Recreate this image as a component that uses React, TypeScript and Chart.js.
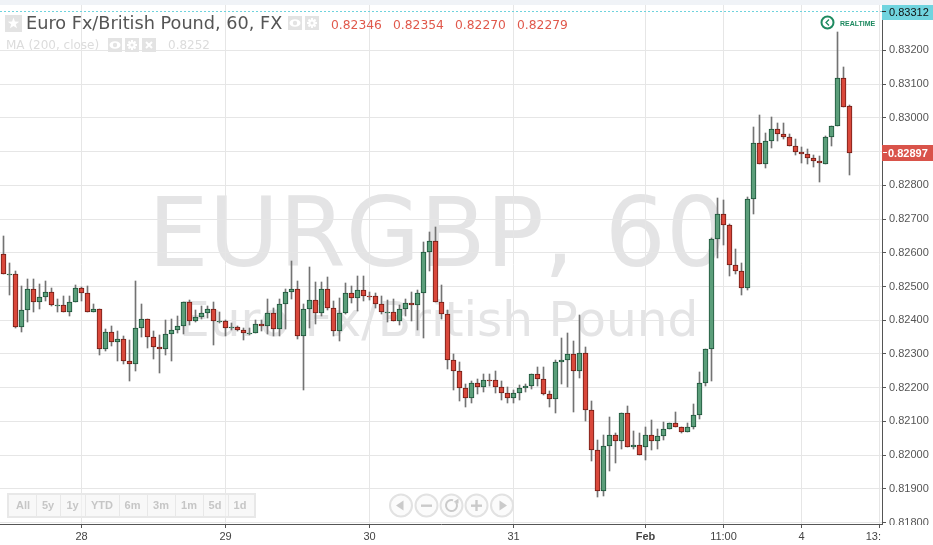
import React, { useEffect, useRef } from "react";
import { Chart, registerables } from "chart.js";

Chart.register(...registerables);

// Prices in 1e-5 units (0.82651 -> 82651)
const highs = [
  82651,82570,82545,82500,82523,82523,82508,82517,82496,82464,
  82473,82473,82503,82498,82500,82449,82434,82373,82382,82369,
  82354,82340,82515,82447,82404,82367,82355,82402,82405,82414,
  82455,82459,82429,82441,82441,82453,82423,82400,82393,82384,
  82378,82378,82402,82402,82462,82435,82464,82493,82577,82515,
  82447,82557,82512,82512,82527,82456,82465,82509,82502,82530,
  82530,82485,82481,82473,82459,82464,82444,82464,82485,82491,
  82633,82663,82675,82503,82429,82299,82275,82210,82219,82227,
  82240,82240,82251,82219,82201,82192,82207,82212,82242,82261,
  82260,82189,82281,82347,82361,82338,82415,82320,82162,82044,
  82059,82112,82067,82126,82145,82073,82067,82085,82105,82079,
  82099,82096,82129,82084,82094,82153,82248,82315,82645,82762,
  82757,82685,82611,82571,82766,82972,83008,82954,83002,82984,
  82984,82951,82937,82913,82907,82889,82887,82947,82977,83254,
  83150,83038,
];
const lows = [
  82538,82474,82376,82365,82394,82424,82432,82456,82443,82424,
  82424,82412,82454,82456,82424,82424,82297,82308,82323,82279,
  82270,82220,82249,82350,82317,82285,82243,82297,82279,82362,
  82360,82385,82394,82403,82408,82326,82392,82352,82370,82368,
  82340,82355,82362,82367,82358,82352,82352,82374,82462,82344,
  82193,82377,82389,82414,82430,82352,82338,82418,82451,82427,
  82457,82460,82436,82418,82394,82398,82385,82414,82398,82370,
  82347,82546,82455,82403,82255,82192,82162,82143,82156,82180,
  82186,82204,82184,82165,82154,82154,82165,82186,82196,82204,
  82177,82143,82125,82210,82201,82127,82229,82101,81984,81875,
  81880,81954,81976,82018,82025,82018,82001,81986,82014,82017,
  82045,82078,82084,82065,82069,82077,82106,82204,82221,82583,
  82622,82532,82536,82476,82489,82714,82864,82851,82911,82932,
  82937,82915,82890,82865,82863,82854,82810,82864,82917,82977,
  83033,82830,
];
const opens = [
  82597,82538,82538,82380,82431,82493,82454,82469,82484,82446,
  82446,82424,82455,82496,82481,82424,82434,82315,82366,82336,
  82345,82280,82271,82378,82404,82351,82321,82315,82360,82372,
  82384,82455,82398,82410,82422,82434,82398,82398,82378,82381,
  82372,82362,82362,82390,82383,82422,82375,82449,82484,82493,
  82354,82434,82461,82422,82493,82437,82369,82422,82481,82467,
  82490,82473,82473,82449,82425,82425,82398,82434,82452,82446,
  82481,82603,82636,82455,82419,82283,82251,82200,82170,82215,
  82202,82224,82224,82202,82185,82170,82185,82200,82206,82242,
  82227,82182,82166,82277,82283,82301,82250,82304,82135,82016,
  81894,82028,82060,82043,82126,82025,82031,82024,82060,82042,
  82057,82078,82096,82084,82069,82084,82119,82214,82315,82641,
  82715,82682,82564,82546,82496,82760,82924,82864,82930,82968,
  82952,82942,82915,82900,82894,82882,82873,82864,82944,82977,
  83117,83034,
];
const closes = [
  82538,82538,82380,82431,82493,82454,82469,82484,82445,82446,
  82424,82455,82496,82480,82424,82434,82315,82366,82336,82345,
  82280,82270,82378,82404,82351,82321,82315,82360,82372,82384,
  82455,82398,82410,82422,82434,82398,82398,82378,82381,82371,
  82362,82362,82390,82383,82422,82375,82449,82484,82493,82354,
  82434,82461,82422,82493,82437,82369,82422,82481,82466,82490,
  82473,82472,82449,82425,82425,82398,82434,82452,82445,82481,
  82603,82636,82455,82419,82283,82250,82200,82170,82215,82202,
  82224,82223,82202,82185,82170,82185,82200,82206,82242,82227,
  82181,82166,82277,82283,82301,82250,82304,82135,82016,81894,
  82028,82060,82043,82126,82025,82031,82001,82060,82042,82057,
  82078,82096,82084,82069,82084,82119,82214,82315,82641,82715,
  82682,82564,82546,82496,82759,82924,82864,82930,82968,82952,
  82942,82915,82900,82894,82882,82873,82867,82944,82977,83117,
  83033,82897,
];

const xTickIndexes = [13, 37, 61, 85, 107, 120, 133, 146];
const xTickLabels = ["28", "29", "30", "31", "Feb", "11:00", "4", "13:00"];
const yTicks = [83200,83100,83000,82900,82800,82700,82600,82500,82400,82300,82200,82100,82000,81900,81800];

const lastPrice = 82897;
const topPrice = 83312;
const titleText = "Euro Fx/British Pound, 60, FX";
const ohlcTexts = ["0.82346", "0.82354", "0.82270", "0.82279"];
const ohlcX = [331, 393, 455, 517];
const maLabel = "MA (200, close)";
const maValue = "0.8252";
const watermark1 = "EURGBP, 60";
const watermark2 = "Euro Fx/British Pound";
const rangeLabels = ["All", "5y", "1y", "YTD", "6m", "3m", "1m", "5d", "1d"];
const rangeCenters = [23, 48, 72.5, 102, 132.5, 161, 189, 215, 240];
const rangeSeps = [36, 60, 85, 118.5, 146.5, 175, 203, 228];

const RED = "#d9483b";
const RED_B = "#6f1c15";
const GREEN = "#5b9e7a";
const GREEN_B = "#1c5239";
const SANS = '"DejaVu Sans"';
const ARIAL = '"Liberation Sans"';

function iconBox(c: CanvasRenderingContext2D, x: number, y: number, s: number, col: string) {
  c.fillStyle = col;
  c.fillRect(x, y, s, s);
}
function eye(c: CanvasRenderingContext2D, cx: number, cy: number) {
  c.fillStyle = "#fff";
  c.beginPath();
  c.ellipse(cx, cy, 5.5, 3.8, 0, 0, Math.PI * 2);
  c.fill();
  c.fillStyle = "#e3e3e3";
  c.beginPath();
  c.arc(cx, cy, 2.2, 0, Math.PI * 2);
  c.fill();
}
function gear(c: CanvasRenderingContext2D, cx: number, cy: number) {
  c.strokeStyle = "#fff";
  c.lineWidth = 2;
  for (let a = 0; a < 4; a++) {
    const t = (a * Math.PI) / 4;
    c.beginPath();
    c.moveTo(cx - Math.cos(t) * 5, cy - Math.sin(t) * 5);
    c.lineTo(cx + Math.cos(t) * 5, cy + Math.sin(t) * 5);
    c.stroke();
  }
  c.fillStyle = "#fff";
  c.beginPath();
  c.arc(cx, cy, 3.6, 0, Math.PI * 2);
  c.fill();
  c.fillStyle = "#e3e3e3";
  c.beginPath();
  c.arc(cx, cy, 1.5, 0, Math.PI * 2);
  c.fill();
}

const backdrop = {
  id: "backdrop",
  beforeDraw(chart: any) {
    const c: CanvasRenderingContext2D = chart.ctx;
    c.save();
    c.fillStyle = "#fff";
    c.fillRect(0, 0, 933, 545);
    c.fillStyle = "#e4e4e5";
    c.textBaseline = "alphabetic";
    c.textAlign = "left";
    c.font = `96px ${SANS}`;
    c.fillText(watermark1, 148, 266);
    c.font = `48.6px ${SANS}`;
    c.fillText(watermark2, 179, 336);
    c.restore();
  },
};

// Snap the bars the library laid out to whole pixels, so that bodies stay crisp.
const snap = {
  id: "snap",
  afterDatasetsUpdate(chart: any) {
    chart.data.datasets.forEach((_: any, i: number) => {
      chart.getDatasetMeta(i).data.forEach((el: any) => {
        let top = Math.round(Math.min(el.y, el.base));
        let bottom = Math.round(Math.max(el.y, el.base));
        if (bottom - top < 1) bottom = top + 1;
        el.y = top;
        el.base = bottom;
        el.height = bottom - top;
      });
    });
  },
};

const overlay = {
  id: "overlay",
  afterDraw(chart: any) {
    const c: CanvasRenderingContext2D = chart.ctx;
    const y = chart.scales.y;
    c.save();
    // clip the tick labels that run past the axis corner
    c.fillStyle = "#fff";
    c.fillRect(881, 525, 52, 20);
    // top strip
    c.fillStyle = "#f0f3f7";
    c.fillRect(0, 0, 933, 5);

    // top price line and box
    const ty = Math.round(y.getPixelForValue(topPrice)) - 1.5;
    c.strokeStyle = "#6fd3dd";
    c.lineWidth = 1;
    c.setLineDash([2, 2]);
    c.beginPath();
    c.moveTo(0, ty);
    c.lineTo(882, ty);
    c.stroke();
    c.setLineDash([]);
    c.fillStyle = "#70d4df";
    c.fillRect(882, 5, 51, 15);
    c.fillStyle = "#111";
    c.textBaseline = "middle";
    c.textAlign = "left";
    c.font = `11px ${ARIAL}`;
    c.fillText((topPrice / 1e5).toFixed(5), 889, 12.5);
    c.fillStyle = "#333";
    c.fillRect(882, 11, 4, 1);

    // last price box
    const ly = Math.round(y.getPixelForValue(lastPrice));
    c.fillStyle = "#d9534a";
    c.fillRect(882, ly - 8, 51, 16);
    c.fillStyle = "#fff";
    c.font = `bold 11px ${ARIAL}`;
    c.fillText((lastPrice / 1e5).toFixed(5), 888, ly + 0.5);
    c.fillRect(883, ly - 1, 4, 1);

    // header
    c.textBaseline = "alphabetic";
    iconBox(c, 5, 15, 17, "#e3e3e3");
    c.fillStyle = "#fff";
    c.beginPath();
    for (let k = 0; k < 10; k++) {
      const r = k % 2 ? 2.4 : 6;
      const t = -Math.PI / 2 + (k * Math.PI) / 5;
      const px = 13.5 + Math.cos(t) * r;
      const py = 23.5 + Math.sin(t) * r;
      if (k) c.lineTo(px, py);
      else c.moveTo(px, py);
    }
    c.closePath();
    c.fill();

    c.fillStyle = "#555";
    c.font = `17.7px ${SANS}`;
    c.fillText(titleText, 26, 29);
    iconBox(c, 288, 16, 14, "#e3e3e3");
    eye(c, 295, 23);
    iconBox(c, 305, 16, 14, "#e3e3e3");
    gear(c, 312, 23);

    c.fillStyle = "#e0584b";
    c.font = `12.3px ${SANS}`;
    ohlcTexts.forEach((t, i) => c.fillText(t, ohlcX[i], 29));

    c.fillStyle = "#dcdcdc";
    c.font = `12px ${SANS}`;
    c.fillText(maLabel, 6, 49);
    c.fillText(maValue, 168, 49);
    iconBox(c, 108, 38, 14, "#e3e3e3");
    eye(c, 115, 45);
    iconBox(c, 125, 38, 14, "#e3e3e3");
    gear(c, 132, 45);
    iconBox(c, 142, 38, 14, "#e3e3e3");
    c.strokeStyle = "#fff";
    c.lineWidth = 2;
    c.beginPath();
    c.moveTo(146, 42);
    c.lineTo(152, 48);
    c.moveTo(152, 42);
    c.lineTo(146, 48);
    c.stroke();

    // realtime badge
    c.strokeStyle = "#1e8a60";
    c.lineWidth = 2;
    c.beginPath();
    c.arc(827.5, 22.5, 6, 0, Math.PI * 2);
    c.stroke();
    c.lineWidth = 1.3;
    c.beginPath();
    c.moveTo(829, 19.5);
    c.lineTo(826, 22.5);
    c.lineTo(829, 25.5);
    c.stroke();
    c.fillStyle = "#1e8a60";
    c.font = `bold 7px ${ARIAL}`;
    c.fillText("REALTIME", 840, 25.5);

    // range buttons
    c.fillStyle = "rgba(245,245,245,0.65)";
    c.fillRect(8, 494, 247, 23);
    c.strokeStyle = "#e8e8e8";
    c.lineWidth = 2;
    c.strokeRect(8, 494, 247, 23);
    c.lineWidth = 1;
    rangeSeps.forEach((s) => {
      c.beginPath();
      c.moveTo(Math.round(s) + 0.5, 495);
      c.lineTo(Math.round(s) + 0.5, 516);
      c.stroke();
    });
    c.fillStyle = "#c6c6c6";
    c.textAlign = "center";
    c.textBaseline = "middle";
    c.font = `bold 11px ${ARIAL}`;
    rangeLabels.forEach((t, i) => c.fillText(t, rangeCenters[i], 505.5));

    // navigation buttons
    const cy = 505.5;
    [401, 426.5, 451.5, 476.5, 502].forEach((cx, i) => {
      c.strokeStyle = "#e2e2e2";
      c.lineWidth = 2;
      c.fillStyle = "rgba(250,250,250,0.7)";
      c.beginPath();
      c.arc(cx, cy, 11, 0, Math.PI * 2);
      c.fill();
      c.stroke();
      c.fillStyle = "#cacaca";
      c.strokeStyle = "#cacaca";
      if (i === 0 || i === 4) {
        const d = i === 0 ? -1 : 1;
        c.beginPath();
        c.moveTo(cx + d * 5, cy);
        c.lineTo(cx - d * 2.5, cy - 5);
        c.lineTo(cx - d * 2.5, cy + 5);
        c.closePath();
        c.fill();
      } else if (i === 1 || i === 3) {
        c.fillRect(cx - 5.5, cy - 1, 11, 2.4);
        if (i === 3) c.fillRect(cx - 1.2, cy - 5.5, 2.4, 11);
      } else {
        c.lineWidth = 2;
        c.beginPath();
        c.arc(cx, cy, 5.5, -0.2 * Math.PI, 1.75 * Math.PI - 0.5);
        c.stroke();
        c.beginPath();
        c.moveTo(cx + 7, cy - 7);
        c.lineTo(cx + 7, cy - 2);
        c.lineTo(cx + 2, cy - 3.5);
        c.closePath();
        c.fill();
      }
    });
    c.restore();
  },
};

export default function App() {
  const ref = useRef<HTMLCanvasElement | null>(null);
  useEffect(() => {
    if (!ref.current) return;
    const xs = closes.map((_, i) => i);
    const isDown = closes.map((v, i) => v < opens[i]);
    const chart = new Chart(ref.current, {
      type: "bar",
      data: {
        datasets: [
          {
            label: "Wick",
            data: xs.map((i) => ({ x: i, y: [lows[i], highs[i]] })),
            backgroundColor: "#737373",
            borderWidth: 0,
            barThickness: 1,
            grouped: false,
            order: 2,
          },
          {
            label: "Body",
            data: xs.map((i) => ({ x: i, y: [opens[i], closes[i]] })),
            backgroundColor: isDown.map((d) => (d ? RED : GREEN)),
            borderColor: isDown.map((d) => (d ? RED_B : GREEN_B)),
            borderWidth: 1,
            borderSkipped: false,
            barThickness: 5,
            grouped: false,
            order: 1,
          },
        ],
      } as any,
      options: {
        animation: false,
        responsive: false,
        maintainAspectRatio: false,
        layout: { padding: { top: 5, left: 0, right: 0, bottom: 0 } },
        plugins: { legend: { display: false }, tooltip: { enabled: false } },
        scales: {
          x: {
            type: "linear",
            offset: false,
            min: -0.58333,
            max: 146.41667,
            grid: { offset: false, color: "#e6e6e6", tickColor: "#555", tickLength: 4, lineWidth: 1 },
            border: { color: "#555", width: 1 },
            ticks: {
              autoSkip: false,
              maxRotation: 0,
              padding: 2,
              color: "#444",
              font: (ctx: any) =>
                ctx.tick && ctx.tick.value === 107
                  ? { family: ARIAL, size: 11, weight: "bold" }
                  : { family: ARIAL, size: 11 },
              callback: (v: any) => xTickLabels[xTickIndexes.indexOf(Number(v))] ?? "",
            },
            afterBuildTicks: (s: any) => {
              s.ticks = xTickIndexes.map((value) => ({ value }));
            },
            afterFit: (s: any) => {
              s.height = 21;
              s.paddingLeft = 0;
              s.paddingRight = 0;
            },
          },
          y: {
            type: "linear",
            position: "right",
            min: 81796.1,
            max: 83334.3,
            grid: { color: "#e6e6e6", tickColor: "#555", tickLength: 4, lineWidth: 1 },
            border: { color: "#555", width: 1 },
            ticks: {
              padding: 3,
              color: "#555",
              font: { family: ARIAL, size: 11 },
              callback: (v: any) => (Number(v) / 1e5).toFixed(5),
            },
            afterBuildTicks: (s: any) => {
              s.ticks = yTicks.map((value) => ({ value }));
            },
            afterFit: (s: any) => {
              s.width = 51;
              s.paddingTop = 0;
              s.paddingBottom = 0;
            },
          },
        },
      } as any,
      plugins: [backdrop, snap, overlay],
    });
    return () => chart.destroy();
  }, []);
  return (
    <div style={{ position: "fixed", left: 0, top: 0, width: 933, height: 545 }}>
      <canvas ref={ref} width={933} height={545} style={{ display: "block", width: 933, height: 545 }} />
    </div>
  );
}
